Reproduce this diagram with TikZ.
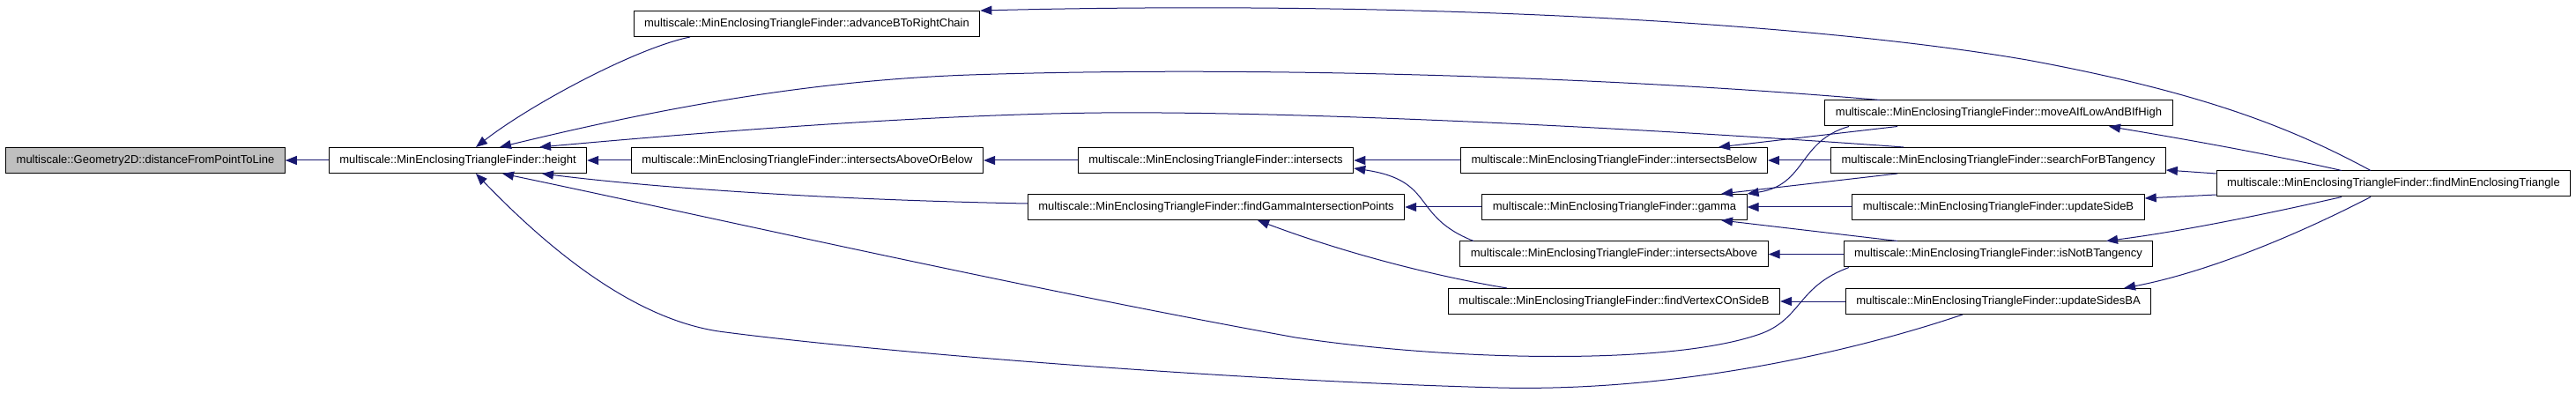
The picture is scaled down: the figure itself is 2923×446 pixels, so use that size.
\documentclass[tikz,border=0pt]{standalone}
\usepackage{fontspec}
\newfontfamily\dotfont{Liberation Sans}
\usetikzlibrary{arrows.meta}
\definecolor{midnight}{RGB}{25,25,112}
\definecolor{grey75}{RGB}{191,191,191}
\tikzset{
  fn/.style={rectangle, draw=black, line width=1pt, fill=white, inner xsep=12pt, inner ysep=0pt,
             minimum height=29pt, font=\dotfont\fontsize{13}{15}\selectfont},
  fnroot/.style={fn, fill=grey75},
  call/.style={-{Triangle[length=13pt,width=10pt]}, line width=1pt, midnight},
}
\begin{document}
\begin{tikzpicture}[x=1pt,y=-1pt]
\useasboundingbox (0,0) rectangle (2923,446);
\node[fnroot] (distance) at (165,182) {multiscale::Geometry2D::distanceFromPointToLine};
\node[fn] (height) at (519.5,182) {multiscale::MinEnclosingTriangleFinder::height};
\node[fn] (advance) at (915.5,27) {multiscale::MinEnclosingTriangleFinder::advanceBToRightChain};
\node[fn] (iaob) at (916,182) {multiscale::MinEnclosingTriangleFinder::intersectsAboveOrBelow};
\node[fn] (intersects) at (1379.5,182) {multiscale::MinEnclosingTriangleFinder::intersects};
\node[fn] (findgamma) at (1380,235) {multiscale::MinEnclosingTriangleFinder::findGammaIntersectionPoints};
\node[fn] (ibelow) at (1831.5,182) {multiscale::MinEnclosingTriangleFinder::intersectsBelow};
\node[fn] (gamma) at (1832,235) {multiscale::MinEnclosingTriangleFinder::gamma};
\node[fn] (iabove) at (1831.5,288.5) {multiscale::MinEnclosingTriangleFinder::intersectsAbove};
\node[fn] (findvertex) at (1831.5,342) {multiscale::MinEnclosingTriangleFinder::findVertexCOnSideB};
\node[fn] (moveaif) at (2268,128.5) {multiscale::MinEnclosingTriangleFinder::moveAIfLowAndBIfHigh};
\node[fn] (searchb) at (2267.5,182) {multiscale::MinEnclosingTriangleFinder::searchForBTangency};
\node[fn] (usideb) at (2267.5,235) {multiscale::MinEnclosingTriangleFinder::updateSideB};
\node[fn] (isnotb) at (2267.5,288.5) {multiscale::MinEnclosingTriangleFinder::isNotBTangency};
\node[fn] (usidesba) at (2267.5,342) {multiscale::MinEnclosingTriangleFinder::updateSidesBA};
\node[fn] (findmin) at (2716,208.5) {multiscale::MinEnclosingTriangleFinder::findMinEnclosingTriangle};

% straight calls on one row
\foreach \a/\b in {height/distance, iaob/height, intersects/iaob, ibelow/intersects,
                   gamma/findgamma, usideb/gamma, searchb/ibelow, isnotb/iabove, usidesba/findvertex}
  \draw[call] (\a) -- (\b);

% callers of height
\draw[call] ([xshift=-132.5pt]advance.south) .. controls (720,55) and (600,120) .. ([xshift=20.5pt]height.north);
\draw[call] ([xshift=-135pt]moveaif.north) .. controls (1800,85) and (1400,75) .. (1100,85)
  .. controls (900,92) and (720,130) .. ([xshift=47.5pt]height.north);
\draw[call] ([xshift=-107.5pt]searchb.north) .. controls (1900,148) and (1500,126) .. (1250,128)
  .. controls (1050,130) and (800,150) .. ([xshift=92.5pt]height.north);
\draw[call] ([yshift=4pt]findgamma.west) .. controls (950,227) and (750,214) .. ([xshift=95.5pt]height.south);
\draw[call] ([xshift=-169.5pt]isnotb.south) .. controls (2040,325) and (2045,360) .. (2000,378)
  .. controls (1900,415) and (1650,410) .. (1470,383)
  .. controls (1150,325) and (800,245) .. ([xshift=50.5pt]height.south);
\draw[call] ([xshift=-40.5pt]usidesba.south) .. controls (2100,400) and (1900,445) .. (1700,440)
  .. controls (1400,432) and (1000,400) .. (823,377)
  .. controls (720,365) and (620,280) .. ([xshift=20.5pt]height.south);

% middle columns
\draw[call] ([xshift=-159.5pt]iabove.north) .. controls (1600,245) and (1630,205) .. ([yshift=-9pt]intersects.east);
\draw[call] ([xshift=-121.5pt]findvertex.north) .. controls (1620,312) and (1520,285) .. ([xshift=47pt]findgamma.south);
\draw[call] ([xshift=-115pt]moveaif.south) -- ([xshift=118.5pt]ibelow.north);
\draw[call] ([xshift=-170pt]moveaif.south) .. controls (2040,160) and (2050,210) .. (gamma.north east);
\draw[call] ([xshift=-114.5pt]searchb.south) -- ([xshift=121pt]gamma.north);
\draw[call] ([xshift=-114.5pt]isnotb.north) -- ([xshift=121pt]gamma.south);

% callees of findMinEnclosingTriangle
\draw[call] ([xshift=-26pt]findmin.north) .. controls (2600,145) and (2500,105) .. (2300,68)
  .. controls (2050,25) and (1600,0) .. (advance.north east);
\draw[call] ([xshift=-59pt]findmin.north) .. controls (2580,176) and (2480,158) .. ([xshift=125pt]moveaif.south);
\draw[call] ([yshift=11.5pt]findmin.west) -- ([yshift=-11pt]searchb.east);
\draw[call] ([yshift=-12.5pt]findmin.west) -- ([yshift=10pt]usideb.east);
\draw[call] ([xshift=-59pt]findmin.south) .. controls (2580,241) and (2480,262) .. ([xshift=122.5pt]isnotb.north);
\draw[call] ([xshift=-26pt]findmin.south) .. controls (2600,270) and (2500,310) .. ([xshift=142.5pt]usidesba.north);
\end{tikzpicture}
\end{document}
